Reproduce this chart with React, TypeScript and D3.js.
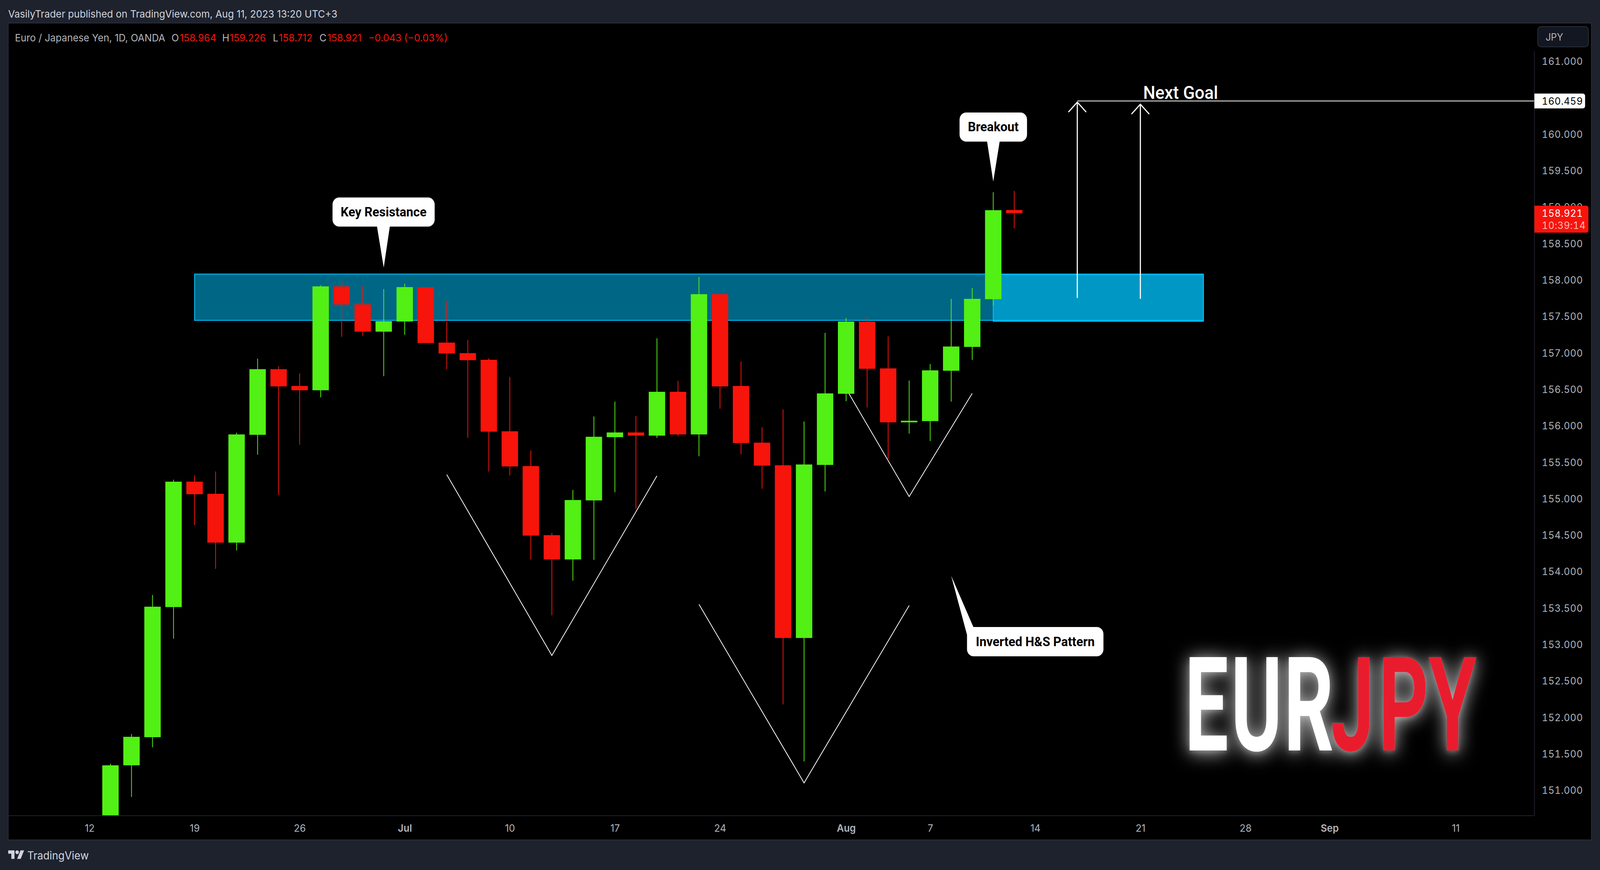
// App.tsx — EUR/JPY daily candles with inverted H&S markup, TradingView look
import { useEffect, useRef } from "react";
import * as d3 from "d3";

// ── Data ──────────────────────────────────────────────────────────────────────
// Weekday sessions, June 12 → Sep 11 (forex has no holidays on this axis)
const SESSIONS = d3
  .utcDays(new Date("2023-06-12"), new Date("2023-09-12"))
  .filter((d) => d.getUTCDay() % 6 !== 0)
  .map(d3.utcFormat("%Y-%m-%d"));

// Bars run from Jun 13 to Aug 11
const BAR_DATES = SESSIONS.slice(1, 45);

const OPENS = [
  150.2, 151.346, 151.732, 153.517, 155.237, 155.071, 154.401, 155.88, 156.78, 156.55, 156.491,
  157.916, 157.67, 157.295, 157.434, 157.906, 157.145, 157.0, 156.909, 155.928, 155.451, 154.503,
  154.17, 154.98, 155.848, 155.912, 155.869, 156.47, 155.885, 157.809, 156.55, 155.772, 155.462,
  153.093, 155.467, 156.443, 157.434, 156.791, 156.051, 156.068, 156.759, 157.086, 157.74, 158.964,
];
const HIGHS = [
  151.368, 151.775, 153.683, 155.264, 155.323, 155.376, 155.91, 156.925, 156.823, 156.721, 157.933,
  157.997, 157.919, 157.879, 157.954, 157.906, 157.718, 157.182, 156.93, 156.673, 155.666, 154.535,
  155.124, 156.132, 156.335, 156.137, 157.204, 156.62, 158.045, 157.809, 156.887, 155.982, 156.228,
  156.062, 157.279, 157.482, 157.498, 157.23, 156.625, 156.85, 157.745, 157.895, 159.208, 159.226,
];
const LOWS = [
  150.0, 150.912, 151.593, 153.083, 154.642, 154.042, 154.294, 155.607, 155.055, 155.746, 156.394,
  157.225, 157.241, 156.684, 157.252, 157.139, 156.78, 155.837, 155.376, 155.323, 154.17, 153.404,
  153.881, 154.165, 155.092, 154.867, 155.837, 155.859, 155.585, 156.239, 155.612, 155.14, 152.182,
  151.4, 155.103, 156.341, 156.255, 155.532, 155.896, 155.794, 156.335, 156.909, 157.654, 158.712,
];
const CLOSES = [
  151.346, 151.737, 153.522, 155.237, 155.065, 154.401, 155.885, 156.78, 156.544, 156.491, 157.916,
  157.667, 157.295, 157.439, 157.906, 157.139, 156.995, 156.904, 155.923, 155.446, 154.497, 154.17,
  154.985, 155.853, 155.912, 155.869, 156.47, 155.885, 157.809, 156.544, 155.767, 155.457, 153.093,
  155.473, 156.448, 157.434, 156.786, 156.051, 156.073, 156.764, 157.091, 157.745, 158.961, 158.921,
];

// 160.500 sits under the goal tag, so it never shows
const PRICE_TICKS = [
  151, 151.5, 152, 152.5, 153, 153.5, 154, 154.5, 155, 155.5, 156, 156.5, 157, 157.5, 158, 158.5,
  159, 159.5, 160, 161,
];
const TIME_TICKS = [
  "2023-06-12", "2023-06-19", "2023-06-26", "2023-07-03", "2023-07-10", "2023-07-17", "2023-07-24",
  "2023-08-01", "2023-08-07", "2023-08-14", "2023-08-21", "2023-08-28", "2023-09-01", "2023-09-11",
];
const TIME_LABELS = ["12", "19", "26", "Jul", "10", "17", "24", "Aug", "7", "14", "21", "28", "Sep", "11"];

// Drawings: [date, price] anchors
const ZONES: [string, number, string, number][] = [
  ["2023-06-19", 158.085, "2023-08-24", 157.45],
  ["2023-08-10", 158.08, "2023-08-24", 157.437],
];
const PATTERN_LINES: [string, number][][] = [
  [["2023-07-05", 155.333], ["2023-07-12", 152.853], ["2023-07-19", 155.317]],
  [["2023-07-21", 153.554], ["2023-07-28", 151.105], ["2023-08-04", 153.538]],
  [["2023-08-01", 156.512], ["2023-08-04", 155.033], ["2023-08-09", 156.448]],
];
const ARROWS: [string, number, number][] = [
  ["2023-08-16", 157.763, 160.443],
  ["2023-08-21", 157.752, 160.415],
];
const GOAL_START = "2023-08-16";
const GOAL_PRICE = 160.459;
const LAST_PRICE = 158.921;

const LEGEND = [
  { text: "Euro / Japanese Yen, 1D, OANDA", x: 40, up: false },
  { text: "O", x: 460, up: false },
  { text: "158.964", x: 482, up: true },
  { text: "H", x: 596, up: false },
  { text: "159.226", x: 616, up: true },
  { text: "L", x: 732, up: false },
  { text: "158.712", x: 748, up: true },
  { text: "C", x: 857, up: false },
  { text: "158.921", x: 878, up: true },
  { text: "−0.043 (−0.03%)", x: 988, up: true },
];

// ── Layout / colours ──────────────────────────────────────────────────────────
const WIDTH = 4292;
const HEIGHT = 2227;
const PLOT = { left: 22, top: 59, right: 4116, bottom: 2088 };
const FRAME = { right: 4269, bottom: 2150 };
const BODY_W = 44;
const WICK_W = 2;

const BG = "#1e222d";
const BORDER = "#2a2e39";
const GREEN = "#52f014";
const RED = "#f7140b";
const ZONE = "#00c3ff";
const AXIS_TEXT = "#b2b5be";
const UI_FONT = "Inter, 'Noto Sans', sans-serif";
const NOTE_FONT = "Roboto, sans-serif";
const PRICE_STYLE = "font-variant-numeric: tabular-nums; letter-spacing: 0.6px";

const x = d3.scalePoint<string>().domain(SESSIONS).range([240, 240 + 56.38 * 65]);
const y = d3.scaleLinear().domain([161, 151]).range([157.6, 2023.6]);

// ── Component ─────────────────────────────────────────────────────────────────
export default function App() {
  const svgRef = useRef<SVGSVGElement>(null);

  useEffect(() => {
    if (!svgRef.current) return;
    document.body.style.margin = "0";
    document.body.style.background = BG;

    const svg = d3.select(svgRef.current);
    svg.selectAll("*").remove();

    const defs = svg.append("defs");
    defs.append("clipPath").attr("id", "plot-clip").append("rect")
      .attr("x", PLOT.left).attr("y", PLOT.top)
      .attr("width", PLOT.right - PLOT.left).attr("height", PLOT.bottom - PLOT.top);

    // white glow behind the EURJPY badge: a wide haze plus a tight halo
    const glow = defs.append("filter").attr("id", "glow")
      .attr("filterUnits", "userSpaceOnUse")
      .attr("x", 3050).attr("y", 1550).attr("width", 1050).attr("height", 520);
    glow.append("feOffset").attr("in", "SourceAlpha").attr("dy", 4).attr("result", "off");
    glow.append("feGaussianBlur").attr("in", "off").attr("stdDeviation", 24).attr("result", "wide");
    glow.append("feGaussianBlur").attr("in", "off").attr("stdDeviation", 7).attr("result", "tight");
    glow.append("feFlood").attr("flood-color", "#fff").attr("flood-opacity", 0.8).attr("result", "f1");
    glow.append("feFlood").attr("flood-color", "#fff").attr("flood-opacity", 0.25).attr("result", "f2");
    glow.append("feComposite").attr("in", "f1").attr("in2", "wide").attr("operator", "in").attr("result", "g1");
    glow.append("feComposite").attr("in", "f2").attr("in2", "tight").attr("operator", "in").attr("result", "g2");
    const merge = glow.append("feMerge");
    merge.append("feMergeNode").attr("in", "g1");
    merge.append("feMergeNode").attr("in", "g2");
    merge.append("feMergeNode").attr("in", "SourceGraphic");

    // ── Page + pane ─────────────────────────────────────────────────
    svg.append("rect").attr("width", WIDTH).attr("height", HEIGHT).attr("fill", BG);
    svg.append("rect")
      .attr("x", PLOT.left).attr("y", PLOT.top)
      .attr("width", FRAME.right - PLOT.left).attr("height", FRAME.bottom - PLOT.top)
      .attr("fill", "#000").attr("stroke", BORDER).attr("stroke-width", 2);

    svg.append("text")
      .attr("x", 22).attr("y", 35).attr("dominant-baseline", "central")
      .attr("font-family", UI_FONT).attr("font-size", 26.2).attr("fill", "#d1d4dc")
      .text("VasilyTrader published on TradingView.com, Aug 11, 2023 13:20 UTC+3");

    const plot = svg.append("g").attr("clip-path", "url(#plot-clip)");

    // ── Zones ───────────────────────────────────────────────────────
    plot.selectAll("rect.zone").data(ZONES).join("rect")
      .attr("class", "zone")
      .attr("x", (d) => x(d[0])!)
      .attr("y", (d) => y(d[1]))
      .attr("width", (d) => x(d[2])! - x(d[0])!)
      .attr("height", (d) => y(d[3]) - y(d[1]))
      .attr("fill", ZONE).attr("fill-opacity", 0.52)
      .attr("stroke", ZONE).attr("stroke-width", 2.2);

    // ── Head & shoulder V's ─────────────────────────────────────────
    const vLine = d3.line<[string, number]>().x((d) => x(d[0])!).y((d) => y(d[1]));
    plot.selectAll("path.pattern").data(PATTERN_LINES).join("path")
      .attr("class", "pattern")
      .attr("d", (d) => vLine(d))
      .attr("fill", "none").attr("stroke", "#fff").attr("stroke-width", 2);

    // ── Candles ─────────────────────────────────────────────────────
    const bars = BAR_DATES.map((date, i) => ({
      date, open: OPENS[i], high: HIGHS[i], low: LOWS[i], close: CLOSES[i],
    }));
    const color = (d: (typeof bars)[number]) => (d.close >= d.open ? GREEN : RED);

    plot.selectAll("line.wick").data(bars).join("line")
      .attr("class", "wick")
      .attr("x1", (d) => x(d.date)!).attr("x2", (d) => x(d.date)!)
      .attr("y1", (d) => y(d.high)).attr("y2", (d) => y(d.low))
      .attr("stroke", color).attr("stroke-width", WICK_W);

    plot.selectAll("rect.body").data(bars).join("rect")
      .attr("class", "body")
      .attr("x", (d) => x(d.date)! - BODY_W / 2)
      .attr("y", (d) => y(Math.max(d.open, d.close)))
      .attr("width", BODY_W)
      .attr("height", (d) => Math.abs(y(d.open) - y(d.close)))
      .attr("fill", color);

    // ── Next goal line + arrows ─────────────────────────────────────
    plot.append("line")
      .attr("x1", x(GOAL_START)!).attr("x2", PLOT.right)
      .attr("y1", y(GOAL_PRICE)).attr("y2", y(GOAL_PRICE))
      .attr("stroke", "#fff").attr("stroke-width", 2);

    ARROWS.forEach(([date, from, to]) => {
      const ax = x(date)!;
      const tip = y(to);
      plot.append("path")
        .attr("d", `M${ax},${y(from)}L${ax},${tip}M${ax - 23},${tip + 24.5}L${ax},${tip}L${ax + 23},${tip + 24.5}`)
        .attr("fill", "none").attr("stroke", "#fff").attr("stroke-width", 3)
        .attr("stroke-linecap", "round").attr("stroke-linejoin", "round");
    });

    plot.append("text")
      .attr("x", 3167).attr("y", 237)
      .attr("text-anchor", "middle").attr("dominant-baseline", "central")
      .attr("font-family", NOTE_FONT).attr("font-weight", 500).attr("font-size", 46)
      .attr("fill", "#fff").text("Next Goal");

    // ── Callouts ────────────────────────────────────────────────────
    const callout = (
      label: string, date: string, price: number,
      box: { x0: number; x1: number; y0: number; y1: number },
      base: [number, number][],
    ) => {
      const g = plot.append("g");
      g.append("path")
        .attr("d", d3.line()([[x(date)!, y(price)], ...base]) + "Z")
        .attr("fill", "#fff");
      g.append("rect")
        .attr("x", box.x0).attr("y", box.y0)
        .attr("width", box.x1 - box.x0).attr("height", box.y1 - box.y0)
        .attr("rx", 18).attr("fill", "#fff");
      g.append("text")
        .attr("x", (box.x0 + box.x1) / 2).attr("y", (box.y0 + box.y1) / 2)
        .attr("text-anchor", "middle").attr("dominant-baseline", "central")
        .attr("font-family", NOTE_FONT).attr("font-weight", 700).attr("font-size", 33.5)
        .attr("fill", "#000").text(label);
    };
    callout("Key Resistance", "2023-06-30", 158.174,
      { x0: 892, x1: 1166, y0: 505.5, y1: 580 }, [[1011, 578], [1046, 578]]);
    callout("Breakout", "2023-08-10", 159.354,
      { x0: 2574, x1: 2755, y0: 288, y1: 362.5 }, [[2647.5, 360], [2682, 360]]);
    callout("Inverted H&S Pattern", "2023-08-08", 153.945,
      { x0: 2594, x1: 2960, y0: 1605, y1: 1680 }, [[2594, 1625], [2612, 1607]]);

    // ── EURJPY badge ────────────────────────────────────────────────
    const SQUEEZE = 0.62;
    const badge = plot.append("g")
      .attr("filter", "url(#glow)")
      .attr("font-family", NOTE_FONT).attr("font-weight", 700).attr("font-size", 336);
    badge.append("text")
      .attr("transform", `scale(${SQUEEZE},1)`)
      .attr("x", [3178, 3302, 3444].map((v) => v / SQUEEZE).join(" "))
      .attr("y", 1921).attr("fill", "#fff").text("EUR");
    badge.append("text")
      .attr("transform", `scale(${SQUEEZE},1)`)
      .attr("x", [3570, 3698, 3832].map((v) => v / SQUEEZE).join(" "))
      .attr("y", 1921).attr("fill", "#e91c2e").text("JPY");

    // ── Axes ────────────────────────────────────────────────────────
    const timeAxis = svg.append("g")
      .attr("transform", `translate(0,${PLOT.bottom})`)
      .call(
        d3.axisBottom(x)
          .tickValues(TIME_TICKS)
          .tickFormat((_, i) => TIME_LABELS[i])
          .tickSize(0)
          .tickPadding(23),
      );
    timeAxis.select(".domain").remove();
    timeAxis.selectAll("text")
      .attr("fill", AXIS_TEXT)
      .attr("font-size", 26)
      .attr("font-family", UI_FONT)
      .attr("font-weight", (_, i) => (/[a-z]/i.test(TIME_LABELS[i]) ? 600 : 400));

    const priceAxis = svg.append("g")
      .attr("transform", `translate(${PLOT.right},0)`)
      .call(
        d3.axisRight(y)
          .tickValues(PRICE_TICKS)
          .tickFormat(d3.format(".3f"))
          .tickSize(0)
          .tickPadding(20),
      );
    priceAxis.select(".domain").remove();
    priceAxis.selectAll("text")
      .attr("fill", AXIS_TEXT)
      .attr("font-size", 25.5)
      .attr("font-family", UI_FONT)
      .attr("style", PRICE_STYLE);

    svg.append("line")
      .attr("x1", PLOT.left).attr("x2", PLOT.right)
      .attr("y1", PLOT.bottom).attr("y2", PLOT.bottom)
      .attr("stroke", BG).attr("stroke-width", 2);
    svg.append("line")
      .attr("x1", PLOT.right).attr("x2", PLOT.right)
      .attr("y1", 130).attr("y2", PLOT.bottom)
      .attr("stroke", BG).attr("stroke-width", 2);

    // ── Legend + currency button ────────────────────────────────────
    svg.append("g")
      .attr("font-family", UI_FONT).attr("font-size", 26)
      .selectAll("text").data(LEGEND).join("text")
      .attr("x", (d) => d.x).attr("y", 96)
      .attr("dominant-baseline", "central")
      .attr("fill", (d) => (d.up ? RED : AXIS_TEXT))
      .text((d) => d.text);

    svg.append("rect")
      .attr("x", 4125).attr("y", 68).attr("width", 136).attr("height", 52)
      .attr("rx", 9).attr("fill", "#131722").attr("stroke", BORDER).attr("stroke-width", 2);
    svg.append("text")
      .attr("x", 4146).attr("y", 95).attr("dominant-baseline", "central")
      .attr("font-family", UI_FONT).attr("font-size", 25).attr("fill", AXIS_TEXT)
      .text("JPY");

    // ── Price tags ──────────────────────────────────────────────────
    const tag = (x1: number, top: number, bottom: number, fill: string) => {
      const p = d3.path();
      p.moveTo(PLOT.right, top);
      p.lineTo(x1 - 6, top);
      p.arcTo(x1, top, x1, top + 6, 6);
      p.lineTo(x1, bottom - 6);
      p.arcTo(x1, bottom, x1 - 6, bottom, 6);
      p.lineTo(PLOT.right, bottom);
      p.closePath();
      svg.append("path").attr("d", p.toString()).attr("fill", fill);
    };
    const tagLabel = (label: string, cy: number, fill: string) =>
      svg.append("text")
        .attr("x", PLOT.right + 20).attr("y", cy).attr("dominant-baseline", "central")
        .attr("font-family", UI_FONT).attr("font-size", 25.5).attr("fill", fill)
        .attr("style", PRICE_STYLE)
        .text(label);

    const goalY = y(GOAL_PRICE);
    tag(4252, goalY - 19, goalY + 19, "#fff");
    tagLabel(d3.format(".3f")(GOAL_PRICE), goalY, "#000");

    const lastY = y(LAST_PRICE);
    tag(4261, lastY - 19, lastY + 50, RED);
    tagLabel(d3.format(".3f")(LAST_PRICE), lastY, "#fff");
    tagLabel("10:39:14", lastY + 31, "#ffb8b4");

    // ── Footer logo ─────────────────────────────────────────────────
    const logo = svg.append("g").attr("transform", "translate(22,2172) scale(1.2)").attr("fill", "#d1d4dc");
    logo.append("path").attr("d", "M14 22H7V11H0V4h14v18zM28 22h-8l7.5-18h8L28 22z");
    logo.append("circle").attr("cx", 20).attr("cy", 8).attr("r", 4);
    svg.append("text")
      .attr("x", 73).attr("y", 2190).attr("dominant-baseline", "central")
      .attr("font-family", UI_FONT).attr("font-size", 28).attr("fill", "#d1d4dc")
      .text("TradingView");
  }, []);

  // viewBox so the whole picture fits whatever width the window really has
  return (
    <svg
      ref={svgRef}
      viewBox={`0 0 ${WIDTH} ${HEIGHT}`}
      preserveAspectRatio="none"
      style={{ position: "absolute", left: 0, top: 0, width: "100vw", height: "100vh", display: "block" }}
    />
  );
}
